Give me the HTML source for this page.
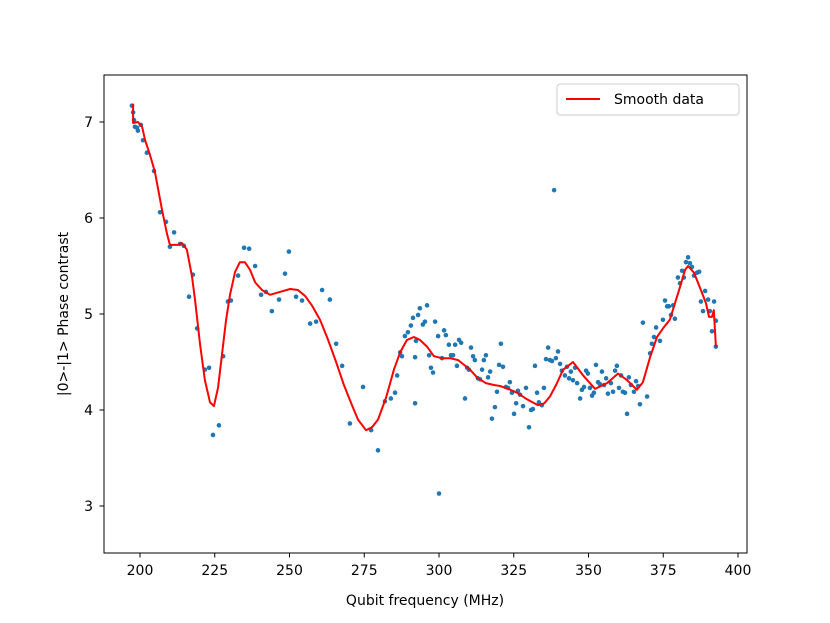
<!DOCTYPE html>
<html><head><meta charset="utf-8"><style>
html,body{margin:0;padding:0;background:#fff;}
svg{display:block;font-family:"DejaVu Sans","Liberation Sans",sans-serif;}
</style></head><body>
<svg id="chart" width="830" height="623" viewBox="0 0 830 623" xmlns="http://www.w3.org/2000/svg">
<rect x="0" y="0" width="830" height="623" fill="#fff"/>
<g id="plot"></g>
<rect x="104" y="75" width="643" height="478" fill="none" stroke="#000" stroke-width="1"/>
<g id="axes"></g>
<text x="425" y="605" font-size="14" text-anchor="middle">Qubit frequency (MHz)</text>
<text transform="translate(68,314) rotate(-90)" font-size="14" text-anchor="middle">|0&gt;-|1&gt; Phase contrast</text>
<g>
<rect x="557" y="84" width="182" height="31" rx="3" fill="#fff" stroke="#ccc" stroke-width="1"/>
<line x1="566" y1="99" x2="600" y2="99" stroke="red" stroke-width="2"/>
<text x="614" y="104" font-size="14">Smooth data</text>
</g>
</svg>
<script>
const rawX=[197.3,197.7,198.0,198.3,199.0,199.3,200.3,201.0,202.3,204.7,206.7,208.7,210.0,211.4,213.4,214.7,216.4,217.7,219.1,221.7,223.1,224.4,226.4,227.8,229.4,230.4,232.8,234.8,236.5,238.5,240.5,242.1,244.1,246.5,248.5,249.8,252.2,254.2,256.9,258.9,260.9,263.5,265.6,267.6,270.2,274.6,277.3,279.6,281.9,283.9,285.3,286.0,287.0,287.6,288.6,289.6,290.6,291.3,292.0,292.0,292.3,293.0,293.6,294.6,295.3,296.0,296.7,297.3,298.0,298.7,299.7,300.0,301.0,301.7,302.3,303.3,304.0,304.7,305.4,306.0,306.7,307.4,308.7,309.4,310.0,310.7,311.4,312.0,313.0,313.7,314.4,315.0,315.7,316.4,317.1,317.7,318.7,319.4,320.1,320.7,321.4,322.4,323.1,323.7,324.4,325.1,325.8,326.4,327.1,328.1,329.1,330.1,330.8,331.4,332.1,332.8,333.4,334.4,335.1,335.8,336.5,337.1,337.8,338.5,339.1,339.8,340.5,341.1,342.1,342.8,343.5,344.1,344.8,345.5,346.2,347.2,347.8,348.5,349.2,349.8,350.5,351.2,351.8,352.5,353.2,353.8,354.5,355.2,355.9,356.5,357.5,358.2,358.9,359.5,360.2,360.9,361.5,362.2,362.9,363.5,364.2,365.2,365.9,366.6,367.2,368.2,369.6,370.6,371.2,371.9,372.6,373.9,374.9,375.6,376.3,376.9,377.6,378.3,378.9,379.9,380.6,381.3,381.9,382.6,383.3,383.9,384.6,385.3,386.3,387.0,387.6,388.3,389.0,390.0,390.6,391.3,392.0,392.6,392.6];
const rawY=[7.17,7.10,7.02,6.95,6.94,6.91,6.97,6.81,6.68,6.49,6.06,5.96,5.70,5.85,5.73,5.71,5.18,5.41,4.85,4.42,4.44,3.74,3.84,4.56,5.13,5.14,5.40,5.69,5.68,5.50,5.20,5.23,5.03,5.15,5.42,5.65,5.18,5.14,4.90,4.92,5.25,5.15,4.69,4.46,3.86,4.24,3.79,3.58,4.09,4.12,4.18,4.36,4.60,4.56,4.77,4.81,4.88,4.96,4.55,4.07,4.72,4.99,5.06,4.89,4.92,5.09,4.57,4.44,4.39,4.92,4.77,3.13,4.54,4.83,4.78,4.68,4.57,4.57,4.68,4.46,4.73,4.70,4.12,4.44,4.42,4.65,4.56,4.52,4.33,4.32,4.42,4.52,4.57,4.34,4.40,3.91,4.03,4.19,4.47,4.69,4.45,4.24,4.23,4.29,4.18,3.96,4.07,4.20,4.16,4.04,4.23,3.82,4.00,4.01,4.46,4.18,4.08,4.05,4.23,4.53,4.65,4.52,4.51,6.29,4.54,4.61,4.48,4.41,4.36,4.45,4.33,4.40,4.31,4.44,4.28,4.12,4.21,4.24,4.41,4.38,4.23,4.15,4.18,4.47,4.29,4.27,4.40,4.26,4.33,4.17,4.28,4.19,4.41,4.46,4.23,4.36,4.19,4.18,3.96,4.34,4.26,4.19,4.30,4.25,4.06,4.91,4.14,4.59,4.69,4.76,4.86,4.72,4.94,5.14,5.08,5.08,4.99,5.09,4.95,5.38,5.32,5.45,5.38,5.54,5.59,5.53,5.49,5.40,5.43,5.44,5.13,5.03,5.24,5.15,5.03,4.82,5.13,4.93,4.66,4.66];
const smoothX=[197.7,197.7,199.3,200.7,201.7,203.3,205.0,207.4,209.0,210.0,212.7,214.0,215.7,217.4,218.4,220.1,221.7,223.4,224.7,226.1,227.4,228.8,230.1,231.8,233.4,235.1,236.8,238.5,240.8,243.5,246.8,250.2,252.8,255.2,257.5,260.2,262.9,265.6,268.2,270.9,272.9,275.6,277.6,279.6,282.3,284.9,287.0,289.3,291.6,293.6,296.0,298.3,301.0,303.7,306.4,308.4,310.4,313.0,315.7,318.4,320.4,323.2,326.1,329.5,333.1,335.2,337.1,339.3,341.5,344.8,348.2,352.2,356.2,359.9,362.9,366.2,368.2,370.6,372.9,374.9,377.2,380.6,382.3,383.3,385.3,387.6,389.3,390.3,391.3,391.9,392.6];
const smoothY=[7.19,6.99,7.00,6.95,6.81,6.66,6.48,6.08,5.84,5.72,5.72,5.74,5.67,5.39,5.15,4.68,4.31,4.08,4.04,4.23,4.57,4.94,5.20,5.44,5.54,5.54,5.46,5.33,5.25,5.20,5.23,5.26,5.25,5.19,5.09,4.94,4.73,4.50,4.26,4.05,3.90,3.79,3.82,3.90,4.13,4.42,4.60,4.73,4.76,4.73,4.66,4.56,4.54,4.54,4.52,4.47,4.42,4.33,4.28,4.26,4.25,4.22,4.18,4.11,4.05,4.07,4.14,4.27,4.42,4.50,4.36,4.22,4.28,4.38,4.31,4.21,4.29,4.55,4.76,4.85,4.94,5.28,5.46,5.50,5.43,5.25,5.11,4.97,4.97,5.04,4.66];
const xTicks=[200,225,250,275,300,325,350,375,400];
const yTicks=[3,4,5,6,7];

const NS="http://www.w3.org/2000/svg";
const sx=v=>140+(v-200)*2.99;
const sy=v=>122-(v-7)*96;
const plot=document.getElementById('plot');
const axes=document.getElementById('axes');
function mk(tag,attrs,parent){const e=document.createElementNS(NS,tag);for(const k in attrs)e.setAttribute(k,attrs[k]);parent.appendChild(e);return e;}

for(let i=0;i<rawX.length;i++){
  const c=mk('circle',{cx:sx(rawX[i]),cy:sy(rawY[i]),r:2.3,fill:'#1f77b4'},plot);
  
  
}
const pts=smoothX.map((x,i)=>sx(x).toFixed(1)+','+sy(smoothY[i]).toFixed(1)).join(' ');
const line=mk('polyline',{points:pts,fill:'none',stroke:'red','stroke-width':2,'stroke-linejoin':'round'},plot);



xTicks.forEach(t=>{
  const x=sx(t);
  const tk=mk('line',{x1:x,y1:553,x2:x,y2:557.5,stroke:'#000','stroke-width':1},axes);
  
  
  const tx=mk('text',{x:x,y:575,'font-size':14,'text-anchor':'middle'},axes);
  tx.textContent=t;
  
  
});
yTicks.forEach(t=>{
  const y=sy(t);
  const tk=mk('line',{x1:99.5,y1:y,x2:104,y2:y,stroke:'#000','stroke-width':1},axes);
  
  
  const tx=mk('text',{x:93,y:y+5,'font-size':14,'text-anchor':'end'},axes);
  tx.textContent=t;
  
  
});
</script>
</body></html>
